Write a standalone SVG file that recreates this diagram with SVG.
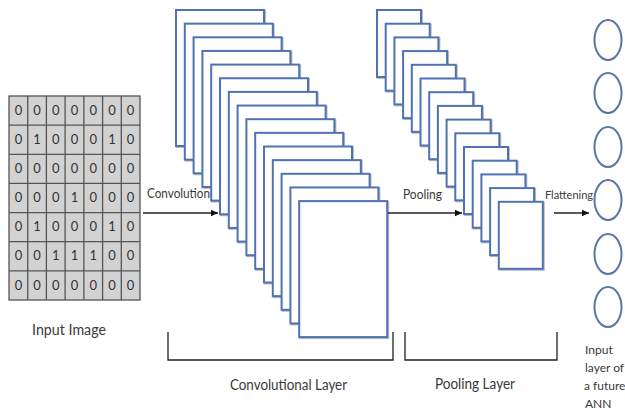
<svg xmlns="http://www.w3.org/2000/svg" width="625" height="412" viewBox="0 0 625 412">
<defs>
<marker id="ah" markerWidth="8" markerHeight="8" refX="7" refY="4" orient="auto" markerUnits="userSpaceOnUse">
<path d="M0,0.8 L7,4 L0,7.2 Z" fill="#111"/>
</marker>
<style>
text{font-family:Lato,"Liberation Sans",sans-serif;fill:#3a3a3a}
.cell{fill:#d2d2d2;stroke:#555;stroke-width:1.3}
.num{font-size:13px;text-anchor:middle;fill:#333}
.fm{fill:#fff;stroke:#4f72b3;stroke-width:2}
.sh{fill:none;stroke:#b8bcc4;stroke-width:2}
.nd{fill:#fff;stroke:#5876a8;stroke-width:2}
.ln{stroke:#222;stroke-width:1.3;fill:none}
.lbl{font-size:14.5px}
.ann{font-size:12px}
</style>
</defs>
<rect width="625" height="412" fill="#fff"/>
<g id="input-image">
<g id="grid">
<rect class="cell" x="9" y="96" width="131" height="204"/>
<path d="M27.7,96V300M46.4,96V300M65.1,96V300M83.9,96V300M102.6,96V300M121.3,96V300M9,125.1H140M9,154.3H140M9,183.4H140M9,212.6H140M9,241.7H140M9,270.9H140" stroke="#555" stroke-width="1.3"/>
</g>
<g>
<text class="num" x="18.4" y="115">0</text><text class="num" x="37.1" y="115">0</text><text class="num" x="55.8" y="115">0</text><text class="num" x="74.5" y="115">0</text><text class="num" x="93.2" y="115">0</text><text class="num" x="111.9" y="115">0</text><text class="num" x="130.6" y="115">0</text>
<text class="num" x="18.4" y="144">0</text><text class="num" x="37.1" y="144">1</text><text class="num" x="55.8" y="144">0</text><text class="num" x="74.5" y="144">0</text><text class="num" x="93.2" y="144">0</text><text class="num" x="111.9" y="144">1</text><text class="num" x="130.6" y="144">0</text>
<text class="num" x="18.4" y="173">0</text><text class="num" x="37.1" y="173">0</text><text class="num" x="55.8" y="173">0</text><text class="num" x="74.5" y="173">0</text><text class="num" x="93.2" y="173">0</text><text class="num" x="111.9" y="173">0</text><text class="num" x="130.6" y="173">0</text>
<text class="num" x="18.4" y="202">0</text><text class="num" x="37.1" y="202">0</text><text class="num" x="55.8" y="202">0</text><text class="num" x="74.5" y="202">1</text><text class="num" x="93.2" y="202">0</text><text class="num" x="111.9" y="202">0</text><text class="num" x="130.6" y="202">0</text>
<text class="num" x="18.4" y="231">0</text><text class="num" x="37.1" y="231">1</text><text class="num" x="55.8" y="231">0</text><text class="num" x="74.5" y="231">0</text><text class="num" x="93.2" y="231">0</text><text class="num" x="111.9" y="231">1</text><text class="num" x="130.6" y="231">0</text>
<text class="num" x="18.4" y="260">0</text><text class="num" x="37.1" y="260">0</text><text class="num" x="55.8" y="260">1</text><text class="num" x="74.5" y="260">1</text><text class="num" x="93.2" y="260">1</text><text class="num" x="111.9" y="260">0</text><text class="num" x="130.6" y="260">0</text>
<text class="num" x="18.4" y="290">0</text><text class="num" x="37.1" y="290">0</text><text class="num" x="55.8" y="290">0</text><text class="num" x="74.5" y="290">0</text><text class="num" x="93.2" y="290">0</text><text class="num" x="111.9" y="290">0</text><text class="num" x="130.6" y="290">0</text>
</g>
<text class="lbl" x="32" y="335" textLength="74" lengthAdjust="spacingAndGlyphs">Input Image</text>
</g>
<g id="conv-layer">
<g id="conv-maps">
<rect class="sh" x="177" y="11" width="88" height="136"/><rect class="fm" x="176" y="10" width="88" height="136"/>
<rect class="sh" x="185.8" y="24.65" width="88" height="136"/><rect class="fm" x="184.8" y="23.65" width="88" height="136"/>
<rect class="sh" x="194.6" y="38.3" width="88" height="136"/><rect class="fm" x="193.6" y="37.3" width="88" height="136"/>
<rect class="sh" x="203.4" y="51.95" width="88" height="136"/><rect class="fm" x="202.4" y="50.95" width="88" height="136"/>
<rect class="sh" x="212.2" y="65.6" width="88" height="136"/><rect class="fm" x="211.2" y="64.6" width="88" height="136"/>
<rect class="sh" x="221" y="79.25" width="88" height="136"/><rect class="fm" x="220" y="78.25" width="88" height="136"/>
<rect class="sh" x="229.8" y="92.9" width="88" height="136"/><rect class="fm" x="228.8" y="91.9" width="88" height="136"/>
<rect class="sh" x="238.6" y="106.55" width="88" height="136"/><rect class="fm" x="237.6" y="105.55" width="88" height="136"/>
<rect class="sh" x="247.4" y="120.2" width="88" height="136"/><rect class="fm" x="246.4" y="119.2" width="88" height="136"/>
<rect class="sh" x="256.2" y="133.85" width="88" height="136"/><rect class="fm" x="255.2" y="132.85" width="88" height="136"/>
<rect class="sh" x="265" y="147.5" width="88" height="136"/><rect class="fm" x="264" y="146.5" width="88" height="136"/>
<rect class="sh" x="273.8" y="161.15" width="88" height="136"/><rect class="fm" x="272.8" y="160.15" width="88" height="136"/>
<rect class="sh" x="282.6" y="174.8" width="88" height="136"/><rect class="fm" x="281.6" y="173.8" width="88" height="136"/>
<rect class="sh" x="291.4" y="188.45" width="88" height="136"/><rect class="fm" x="290.4" y="187.45" width="88" height="136"/>
<rect class="sh" x="300.2" y="202.1" width="88" height="136"/><rect class="fm" x="299.2" y="201.1" width="88" height="136"/>
</g>
<path class="ln" d="M168,332V360H393V332"/>
<text class="lbl" x="230" y="390" textLength="117" lengthAdjust="spacingAndGlyphs">Convolutional Layer</text>
</g>
<g id="pool-layer">
<g id="pool-maps">
<rect class="sh" x="378" y="11" width="44" height="67"/><rect class="fm" x="377" y="10" width="44" height="67"/>
<rect class="sh" x="386.7" y="24.7" width="44" height="67"/><rect class="fm" x="385.7" y="23.7" width="44" height="67"/>
<rect class="sh" x="395.4" y="38.4" width="44" height="67"/><rect class="fm" x="394.4" y="37.4" width="44" height="67"/>
<rect class="sh" x="404.1" y="52.1" width="44" height="67"/><rect class="fm" x="403.1" y="51.1" width="44" height="67"/>
<rect class="sh" x="412.8" y="65.8" width="44" height="67"/><rect class="fm" x="411.8" y="64.8" width="44" height="67"/>
<rect class="sh" x="421.5" y="79.5" width="44" height="67"/><rect class="fm" x="420.5" y="78.5" width="44" height="67"/>
<rect class="sh" x="430.2" y="93.2" width="44" height="67"/><rect class="fm" x="429.2" y="92.2" width="44" height="67"/>
<rect class="sh" x="438.9" y="106.9" width="44" height="67"/><rect class="fm" x="437.9" y="105.9" width="44" height="67"/>
<rect class="sh" x="447.6" y="120.6" width="44" height="67"/><rect class="fm" x="446.6" y="119.6" width="44" height="67"/>
<rect class="sh" x="456.3" y="134.3" width="44" height="67"/><rect class="fm" x="455.3" y="133.3" width="44" height="67"/>
<rect class="sh" x="465" y="148" width="44" height="67"/><rect class="fm" x="464" y="147" width="44" height="67"/>
<rect class="sh" x="473.7" y="161.7" width="44" height="67"/><rect class="fm" x="472.7" y="160.7" width="44" height="67"/>
<rect class="sh" x="482.4" y="175.4" width="44" height="67"/><rect class="fm" x="481.4" y="174.4" width="44" height="67"/>
<rect class="sh" x="491.1" y="189.1" width="44" height="67"/><rect class="fm" x="490.1" y="188.1" width="44" height="67"/>
<rect class="sh" x="499.8" y="202.8" width="44" height="67"/><rect class="fm" x="498.8" y="201.8" width="44" height="67"/>
</g>
<path class="ln" d="M405,332V360H557V332"/>
<text class="lbl" x="435" y="389" textLength="80" lengthAdjust="spacingAndGlyphs">Pooling Layer</text>
</g>
<g id="ann-input">
<ellipse class="nd" cx="608" cy="40" rx="13.5" ry="20"/>
<ellipse class="nd" cx="608" cy="93" rx="13.5" ry="20"/>
<ellipse class="nd" cx="608" cy="147" rx="13.5" ry="20"/>
<ellipse class="nd" cx="608" cy="200" rx="13.5" ry="20"/>
<ellipse class="nd" cx="608" cy="254" rx="13.5" ry="20"/>
<ellipse class="nd" cx="608" cy="307" rx="13.5" ry="20"/>
<text class="ann" x="585" y="354">Input</text>
<text class="ann" x="585" y="372">layer of</text>
<text class="ann" x="584" y="390">a future</text>
<text class="ann" x="585" y="408">ANN</text>
</g>
<g id="connectors">
<line class="ln" x1="143" y1="213" x2="218" y2="213" marker-end="url(#ah)"/>
<text font-size="13" x="147" y="198" textLength="63" lengthAdjust="spacingAndGlyphs">Convolution</text>
<line class="ln" x1="388" y1="213" x2="462" y2="213" marker-end="url(#ah)"/>
<text font-size="13" x="403" y="199" textLength="39" lengthAdjust="spacingAndGlyphs">Pooling</text>
<line class="ln" x1="554" y1="213" x2="589" y2="213" marker-end="url(#ah)"/>
<text font-size="12" x="545" y="199" textLength="48" lengthAdjust="spacingAndGlyphs">Flattening</text>
</g>
</svg>
